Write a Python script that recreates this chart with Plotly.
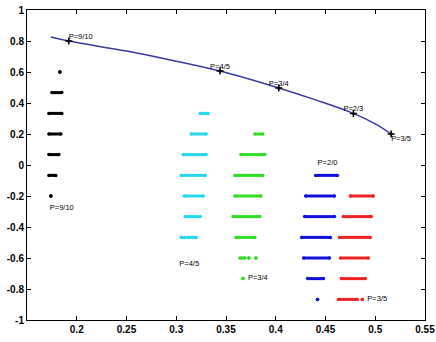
import plotly.graph_objects as go

# Curve (efficient frontier) points
curve_x = [0.174, 0.192, 0.250, 0.300, 0.344, 0.403, 0.440, 0.478, 0.500, 0.516]
curve_y = [0.826, 0.800, 0.735, 0.670, 0.606, 0.497, 0.420, 0.333, 0.265, 0.200]
marker_x = [0.192, 0.344, 0.403, 0.478, 0.516]
marker_y = [0.800, 0.606, 0.497, 0.333, 0.200]
marker_labels = ["P=9/10", "P=4/5", "P=3/4", "P=2/3", "P=3/5"]
marker_lab_x = [0.204, 0.344, 0.403, 0.478, 0.526]
marker_lab_y = [0.828, 0.634, 0.525, 0.361, 0.170]

# Clusters: band level, band x-start, band x-end
black_y = [0.600, 0.467, 0.333, 0.200, 0.067, -0.067, -0.200]
black_x0 = [0.183, 0.175, 0.172, 0.172, 0.172, 0.172, 0.174]
black_x1 = [0.183, 0.185, 0.185, 0.184, 0.182, 0.179, 0.174]

cyan_y = [0.333, 0.200, 0.067, -0.067, -0.200, -0.333, -0.467, -0.467]
cyan_x0 = [0.324, 0.315, 0.307, 0.305, 0.308, 0.309, 0.305, 0.312]
cyan_x1 = [0.332, 0.330, 0.330, 0.329, 0.327, 0.324, 0.309, 0.320]

green_y = [0.200, 0.067, -0.067, -0.200, -0.333, -0.467, -0.600, -0.600, -0.600, -0.733]
green_x0 = [0.379, 0.365, 0.359, 0.359, 0.357, 0.360, 0.364, 0.373, 0.380, 0.367]
green_x1 = [0.387, 0.389, 0.387, 0.385, 0.384, 0.379, 0.369, 0.373, 0.380, 0.367]

blue_y = [-0.067, -0.200, -0.333, -0.467, -0.600, -0.733, -0.867]
blue_x0 = [0.440, 0.430, 0.429, 0.426, 0.428, 0.432, 0.442]
blue_x1 = [0.462, 0.459, 0.459, 0.455, 0.454, 0.448, 0.442]

red_y = [-0.200, -0.333, -0.467, -0.600, -0.733, -0.867, -0.867]
red_x0 = [0.475, 0.468, 0.464, 0.465, 0.466, 0.463, 0.487]
red_x1 = [0.498, 0.496, 0.495, 0.493, 0.490, 0.482, 0.487]

cluster_labels = ["P=9/10", "P=4/5", "P=3/4", "P=2/0", "P=3/5"]
cluster_lab_x = [0.185, 0.313, 0.382, 0.452, 0.502]
cluster_lab_y = [-0.275, -0.640, -0.733, 0.010, -0.865]

x_ticks = [0.2, 0.25, 0.3, 0.35, 0.4, 0.45, 0.5, 0.55]
x_ticktext = ["0.2", "0.25", "0.3", "0.35", "0.4", "0.45", "0.5", "0.55"]
y_ticks = [1, 0.8, 0.6, 0.4, 0.2, 0, -0.2, -0.4, -0.6, -0.8, -1]
y_ticktext = ["1", "0.8", "0.6", "0.4", "0.2", "0", "-0.2", "-0.4", "-0.6", "-0.8", "-1"]

fig = go.Figure()


def add_bands(ys, x0s, x1s, color):
    xs, yy = [], []
    for y, a, b in zip(ys, x0s, x1s):
        xs += [a, b, None]
        yy += [y, y, None]
    fig.add_trace(go.Scatter(x=xs, y=yy, mode="lines+markers",
                             line=dict(color=color, width=3),
                             marker=dict(color=color, size=3.5),
                             hoverinfo="skip", showlegend=False))


add_bands(black_y, black_x0, black_x1, "#000000")
add_bands(cyan_y, cyan_x0, cyan_x1, "#22d8f0")
add_bands(green_y, green_x0, green_x1, "#33dd22")
add_bands(blue_y, blue_x0, blue_x1, "#1111dd")
add_bands(red_y, red_x0, red_x1, "#ee2222")

fig.add_trace(go.Scatter(x=curve_x, y=curve_y, mode="lines",
                         line=dict(color="#3a3aa0", width=1.5, shape="spline"),
                         showlegend=False))
fig.add_trace(go.Scatter(x=marker_x, y=marker_y, mode="markers",
                         marker=dict(color="#000000", size=5, symbol="cross-thin",
                                     line=dict(color="#000000", width=1.5)),
                         showlegend=False))
fig.add_trace(go.Scatter(x=marker_x, y=marker_y, mode="markers",
                         marker=dict(color="#000000", size=3),
                         showlegend=False))
fig.add_trace(go.Scatter(x=marker_lab_x, y=marker_lab_y, mode="text",
                         text=marker_labels,
                         textfont=dict(family="Liberation Sans", size=7.5, color="#000000"),
                         showlegend=False))
fig.add_trace(go.Scatter(x=cluster_lab_x, y=cluster_lab_y, mode="text",
                         text=cluster_labels,
                         textfont=dict(family="Liberation Sans", size=7.5, color="#000000"),
                         showlegend=False))

axis_common = dict(showgrid=False, zeroline=False, showline=True, mirror="ticks",
                   linecolor="#000000", linewidth=1, ticks="inside", ticklen=4,
                   tickcolor="#000000", automargin=False, ticklabeloverflow="allow",
                   tickfont=dict(family="Liberation Sans", size=10, color="#000000",
                                 weight="bold"))

fig.update_layout(
    width=436, height=342,
    margin=dict(l=27, r=11, t=10, b=22),
    paper_bgcolor="white", plot_bgcolor="white",
    xaxis=dict(range=[0.15, 0.55], tickvals=x_ticks, ticktext=x_ticktext, **axis_common),
    yaxis=dict(range=[-1, 1], tickvals=y_ticks, ticktext=y_ticktext, **axis_common),
)

fig.write_html("out.html", config={"displayModeBar": False},
               post_script="document.body.style.margin='0';document.body.style.overflow='hidden';")
